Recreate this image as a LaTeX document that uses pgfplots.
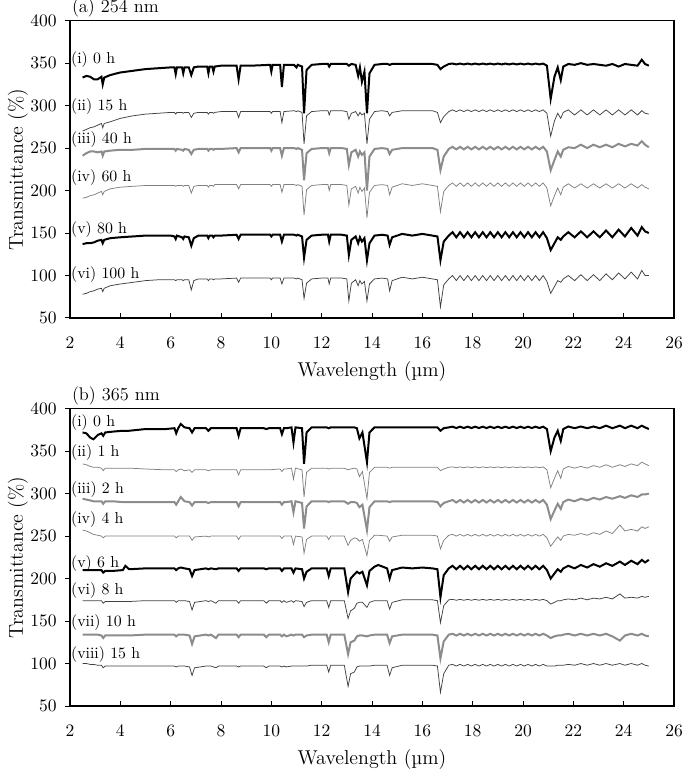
\documentclass[border=0pt]{standalone}
\usepackage{pgfplots}
\usepackage{pgfplotstable}
\pgfplotsset{compat=1.18}

% panel (a): 254 nm, columns = 0, 15, 40, 60, 80, 100 h
\pgfplotstableread{
x a1 a2 a3 a4 a5 a6
2.50 333 270 241 191 137 78
2.65 335 272 244 192 138 79
2.80 334 274 246 194 138 81
2.95 331 275 246 195 139 82
3.10 331 277 245 197 141 84
3.25 334 279 246 199 142 85
3.30 325 274 241 195 138 81
3.36 333 279 246 199 142 85
3.60 336 281 247 202 144 88
4.00 339 285 248 204 145 90
4.50 341 288 248 205 146 92
5.00 343 290 249 206 147 94
5.50 344 291 249 206 147 95
6.00 345 292 249 206 147 95
6.15 345 292 249 206 146 95
6.20 337 290 247 205 143 94
6.25 345 292 249 206 147 95
6.45 345 292 248 206 145 95
6.50 338 291 247 205 143 94
6.55 345 292 249 206 146 95
6.72 345 292 248 206 145 95
6.82 336 286 243 197 135 83
6.92 345 291 248 205 144 94
7.10 346 292 249 206 147 96
7.45 346 292 249 206 147 96
7.50 338 290 247 204 144 94
7.55 346 292 249 206 147 96
7.65 346 292 249 206 147 96
7.70 340 291 248 205 145 95
7.75 346 292 249 207 147 96
8.00 347 293 249 207 147 96
8.62 347 293 250 207 148 97
8.70 331 286 245 202 143 92
8.78 347 293 250 207 148 97
9.20 347 293 250 207 148 97
9.95 348 293 250 207 148 97
10.00 340 291 247 205 146 95
10.05 348 293 250 207 148 97
10.35 348 293 250 207 148 97
10.42 322 280 241 198 140 90
10.50 348 293 250 207 148 97
10.90 348 294 250 207 148 97
11.00 345 293 249 206 147 96
11.05 348 294 250 207 148 97
11.22 346 292 248 205 146 95
11.30 291 255 212 171 121 73
11.40 342 288 244 201 142 91
11.60 348 293 249 206 147 96
12.00 349 294 250 207 148 97
12.25 349 294 250 207 148 97
12.30 346 289 244 200 140 90
12.36 349 294 250 207 148 97
12.80 349 294 250 207 148 97
13.00 349 293 249 206 147 96
13.08 347 284 230 183 124 70
13.18 349 291 245 202 142 91
13.35 348 293 248 205 146 95
13.45 335 288 240 197 138 88
13.52 345 292 246 204 145 94
13.60 328 289 242 199 140 90
13.70 340 291 245 203 144 93
13.80 291 255 200 168 118 70
13.90 338 284 240 198 138 90
14.10 348 293 249 206 147 96
14.40 349 294 250 207 148 97
14.62 349 293 249 206 147 96
14.70 348 288 243 195 136 82
14.80 349 292 248 204 145 94
15.20 349 294 250 208 149 98
15.60 349 294 250 206 147 96
16.00 349 294 250 208 149 98
16.40 349 294 250 206 147 96
16.60 348 292 248 205 146 95
16.72 343 280 224 175 118 63
16.85 346 287 240 199 140 89
17.05 349 293 249 206 147 96
17.20 349.5 295 251.5 209 151 100
17.35 348.5 293 248.5 205 145 94
17.50 349.5 295 251.5 209 151 100
17.65 348.5 293 248.5 205 145 94
17.80 349.5 295 251.5 209 151 100
17.95 348.5 293 248.5 205 145 94
18.10 349.5 295 251.5 209 151 100
18.25 348.5 293 248.5 205 145 94
18.40 349.5 295 251.5 209 151 100
18.55 348.5 293 248.5 205 145 94
18.70 349.5 295 251.5 209 151 100
18.85 348.5 293 248.5 205 145 94
19.00 349.5 295 251.5 209 151 100
19.15 348.5 293 248.5 205 145 94
19.30 349.5 295 251.5 209 151 100
19.45 348.5 293 248.5 205 145 94
19.60 349.5 295 251.5 209 151 100
19.75 348.5 293 248.5 205 145 94
19.90 349.5 295 251.5 209 151 100
20.05 348.5 293 248.5 205 145 94
20.20 349.5 295 251.5 209 151 100
20.35 348.5 293 248.5 205 145 94
20.50 349.5 295 251.5 209 151 100
20.65 348.5 293 248.5 205 145 94
20.80 349.5 295 251.5 209 151 100
20.95 347 291 246 203 144 93
21.10 308 264 224 182 130 79
21.25 334 282 236 194 138 87
21.38 345 291 246 203 145 94
21.50 330 285 240 195 142 92
21.60 346 292 248 204 146 96
21.80 349 295 251 208 151 100
22.05 348 289 250 203 145 94
22.30 350 295 254 208 152 101
22.55 348 289 250 203 145 94
22.80 349 295 254 208 152 101
23.05 348 289 251 203 145 94
23.30 347 295 254 208 153 102
23.55 349 289 251 203 145 95
23.80 346 295 255 208 154 103
24.05 349 289 252 203 146 96
24.30 348 295 255 208 156 104
24.55 347 289 253 203 147 96
24.72 354 294 258 207 157 106
24.85 349 291 254 204 152 100
25.00 347 290 251 202 150 100
}\tabA

% panel (b): 365 nm, columns = 0, 1, 2, 4, 6, 8, 10, 15 h
\pgfplotstableread{
x b1 b2 b3 b4 b5 b6 b7 b8
2.50 372 335 294 257 210 174 134 100
2.65 371 334 293 256 210 174 134 100
2.80 366 332 292 254 210 174 134 99
2.93 364 331 291 252 210 174 134 99
3.10 369 331 291 251 210 174 134 98
3.25 371 330 291 250 210 174 133 98
3.32 368 327 288 248 207 171 130 95
3.40 372 330 291 250 209 173 133 97
3.70 373 330 291 250 209 173 133 97
4.10 374 330 290 250 210 173 133 97
4.20 374 330 290 250 215 173 133 97
4.35 374 330 290 250 211 173 133 97
5.00 376 329 290 250 212 174 134 97
5.80 376 328 290 250 212 174 134 97
6.15 377 328 290 250 212 174 134 97
6.22 371 326 287 248 210 172 132 96
6.30 377 328 291 250 212 174 134 97
6.40 382 329 296 250 213 174 134 97
6.55 378 327 291 250 212 174 134 97
6.75 377 328 290 250 211 173 133 96
6.85 372 325 286 245 203 163 123 86
6.95 377 328 290 249 210 172 132 95
7.40 377 328 290 250 212 174 134 97
7.50 374 327 289 249 211 173 133 97
7.60 377 328 290 250 212 174 134 97
7.80 377 328 290 250 211 171 130 95
7.90 377 328 290 250 212 174 134 97
8.62 377 328 290 250 212 174 134 97
8.70 368 322 285 246 209 171 131 96
8.78 377 328 290 250 212 174 134 97
9.70 377 328 290 250 212 174 134 97
9.80 376 328 290 250 211 171 131 95
9.90 377 328 290 250 212 174 134 97
10.35 377 329 290 250 212 174 134 97
10.42 370 326 287 247 209 172 132 96
10.50 377 329 290 250 212 174 134 97
10.60 377 329 290 250 212 172 132 96
10.80 378 330 291 250 212 174 134 97
10.88 360 317 278 240 207 172 133 97
10.96 378 330 291 250 212 174 134 97
11.22 377 328 289 249 211 173 134 97
11.30 335 296 259 230 200 167 131 97
11.40 372 325 285 246 208 172 133 97
11.60 378 330 291 250 212 174 134 98
12.20 378 330 291 250 212 174 134 98
12.28 377 329 290 246 203 166 125 90
12.36 378 330 291 250 212 174 134 98
12.90 378 330 291 250 212 174 134 98
13.05 378 328 288 239 184 153 111 73
13.15 378 329 290 245 200 162 125 88
13.30 378 330 290 248 205 165 127 90
13.40 377 329 289 247 208 171 132 96
13.50 365 320 284 244 206 172 133 97
13.62 372 326 287 246 208 172 133 97
13.80 337 294 257 227 192 166 132 97
13.90 372 325 284 245 209 172 133 97
14.10 378 331 291 251 214 174 134 98
14.25 378 331 291 251 216 174 134 98
14.60 378 331 291 250 212 174 134 98
14.70 378 330 290 244 200 164 124 86
14.80 378 331 291 249 210 172 132 95
15.20 378 331 291 251 213 175 134 98
15.60 378 331 291 251 212 175 134 98
16.00 378 331 291 251 213 175 134 98
16.40 378 331 291 251 212 175 134 98
16.60 378 331 290 250 211 174 133 97
16.72 374 327 285 235 178 148 106 66
16.85 377 329 289 245 204 168 126 88
17.05 378 331 291 251 212 175 134 98
17.20 378.8 331.5 292.5 252 215 175.5 135 99
17.35 377.2 330.5 289.5 250 211 174.5 133 97
17.50 378.8 331.5 292.5 252 215 175.5 135 99
17.65 377.2 330.5 289.5 250 211 174.5 133 97
17.80 378.8 331.5 292.5 252 215 175.5 135 99
17.95 377.2 330.5 289.5 250 211 174.5 133 97
18.10 378.8 331.5 292.5 252 215 175.5 135 99
18.25 377.2 330.5 289.5 250 211 174.5 133 97
18.40 378.8 331.5 292.5 252 215 175.5 135 99
18.55 377.2 330.5 289.5 250 211 174.5 133 97
18.70 378.8 331.5 292.5 252 215 175.5 135 99
18.85 377.2 330.5 289.5 250 211 174.5 133 97
19.00 378.8 331.5 292.5 252 215 175.5 135 99
19.15 377.2 330.5 289.5 250 211 174.5 133 97
19.30 378.8 331.5 292.5 252 215 175.5 135 99
19.45 377.2 330.5 289.5 250 211 174.5 133 97
19.60 378.8 331.5 292.5 252 215 175.5 135 99
19.75 377.2 330.5 289.5 250 211 174.5 133 97
19.90 378.8 331.5 292.5 252 215 175.5 135 99
20.05 377.2 330.5 289.5 250 211 174.5 133 97
20.20 378.8 331.5 292.5 252 215 175.5 135 99
20.35 377.2 330.5 289.5 250 211 174.5 133 97
20.50 378.8 331.5 292.5 252 215 175.5 135 99
20.65 377.2 330.5 289.5 250 211 174.5 133 97
20.80 378.8 331.5 292.5 252 215 175.5 135 99
20.95 376 328 287 248 210 174 133 97
21.10 350 307 270 238 200 170 130 97
21.25 366 318 280 244 206 172 132 97
21.38 374 327 288 249 211 174 133 98
21.50 362 318 282 245 208 174 133 98
21.60 376 329 290 250 212 175 134 98
21.80 379 332 293 252 215 176 135 99
22.05 377 330 291 251 212 175 133 98
22.30 379 332 294 253 216 177 135 100
22.55 377 330 292 251 213 175 133 98
22.80 379 333 295 254 217 177 135 100
23.05 377 331 293 252 214 176 133 98
23.30 380 334 296 256 218 178 135 100
23.55 377 331 294 253 215 176 132 98
23.85 380 334 297 263 220 182 127 100
24.05 377 332 295 256 216 177 133 98
24.30 380 335 298 258 221 178 135 100
24.55 377 333 296 256 217 177 133 98
24.72 380 337 299 261 222 179 135 100
24.85 378 335 299 259 219 178 133 98
25.00 376 333 300 261 222 179 132 97
}\tabB

\pgfplotsset{
  spec/.style={
    scale only axis, width=362.4pt, height=178.4pt,
    xmin=2, xmax=26, ymin=50, ymax=400,
    xtick={2,4,...,26}, ytick={50,100,...,400},
    xtick pos=bottom, ytick pos=left,
    xtick align=inside, ytick align=outside,
    major tick length=3pt,
    axis line style={line width=0.7pt},
    tick style={black, line width=0.6pt},
    clip=false,
    tick label style={font=\fontsize{10.5}{12}\selectfont},
    xticklabel style={yshift=-7.5pt},
    yticklabel style={xshift=-1.5pt},
    /pgf/number format/assume math mode=true,
  },
  thkblack/.style={black, line width=1.2pt},
  thnblack/.style={black!75, line width=0.45pt},
  thkgray/.style={black!45, line width=1.2pt},
  thngray/.style={black!50, line width=0.45pt},
}
\tikzset{
  lab/.style={anchor=west, inner sep=0.5pt, font=\fontsize{9.5}{10}\selectfont},
  axlab/.style={font=\fontsize{12}{14}\selectfont, inner sep=0pt},
  ttl/.style={anchor=south west, inner sep=1pt, yshift=1pt, font=\fontsize{11}{12}\selectfont},
}

\begin{document}
\begin{tikzpicture}
\path[use as bounding box] (-42pt,-42.6pt) rectangle (369pt,423.6pt);

\begin{axis}[spec, at={(0,232.8pt)}]
\addplot[thkblack] table[x=x, y=a1] \tabA;
\addplot[thnblack] table[x=x, y=a2] \tabA;
\addplot[thkgray] table[x=x, y=a3] \tabA;
\addplot[thngray] table[x=x, y=a4] \tabA;
\addplot[thkblack] table[x=x, y=a5] \tabA;
\addplot[thnblack] table[x=x, y=a6] \tabA;
\node[lab] at (axis cs:2,354) {(i) 0 h};
\node[lab] at (axis cs:2,299) {(ii) 15 h};
\node[lab] at (axis cs:2,260) {(iii) 40 h};
\node[lab] at (axis cs:2,215) {(iv) 60 h};
\node[lab] at (axis cs:2,154) {(v) 80 h};
\node[lab] at (axis cs:2,101) {(vi) 100 h};
\node[ttl] at (rel axis cs:0,1) {(a) 254 nm};
\node[axlab] at ([yshift=-32.4pt]rel axis cs:0.5,0) {Wavelength (µm)};
\node[axlab, rotate=90] at ([xshift=-31.2pt]rel axis cs:0,0.5) {Transmittance (\%)};
\draw[line width=1.3pt] (rel axis cs:0,1) -- (rel axis cs:0,0) -- (rel axis cs:1,0);
\end{axis}

\begin{axis}[spec, at={(0,0)}]
\addplot[thkblack] table[x=x, y=b1] \tabB;
\addplot[thngray] table[x=x, y=b2] \tabB;
\addplot[thkgray] table[x=x, y=b3] \tabB;
\addplot[thngray] table[x=x, y=b4] \tabB;
\addplot[thkblack] table[x=x, y=b5] \tabB;
\addplot[thnblack] table[x=x, y=b6] \tabB;
\addplot[thkgray] table[x=x, y=b7] \tabB;
\addplot[thnblack] table[x=x, y=b8] \tabB;
\node[lab] at (axis cs:2,384) {(i) 0 h};
\node[lab] at (axis cs:2,348) {(ii) 1 h};
\node[lab] at (axis cs:2,305) {(iii) 2 h};
\node[lab] at (axis cs:2,269) {(iv) 4 h};
\node[lab] at (axis cs:2,218) {(v) 6 h};
\node[lab] at (axis cs:2,186) {(vi) 8 h};
\node[lab] at (axis cs:2,148) {(vii) 10 h};
\node[lab] at (axis cs:2,110) {(viii) 15 h};
\node[ttl] at (rel axis cs:0,1) {(b) 365 nm};
\node[axlab] at ([yshift=-32.4pt]rel axis cs:0.5,0) {Wavelength (µm)};
\node[axlab, rotate=90] at ([xshift=-31.2pt]rel axis cs:0,0.5) {Transmittance (\%)};
\draw[line width=1.3pt] (rel axis cs:0,1) -- (rel axis cs:0,0) -- (rel axis cs:1,0);
\end{axis}
\end{tikzpicture}
\end{document}
